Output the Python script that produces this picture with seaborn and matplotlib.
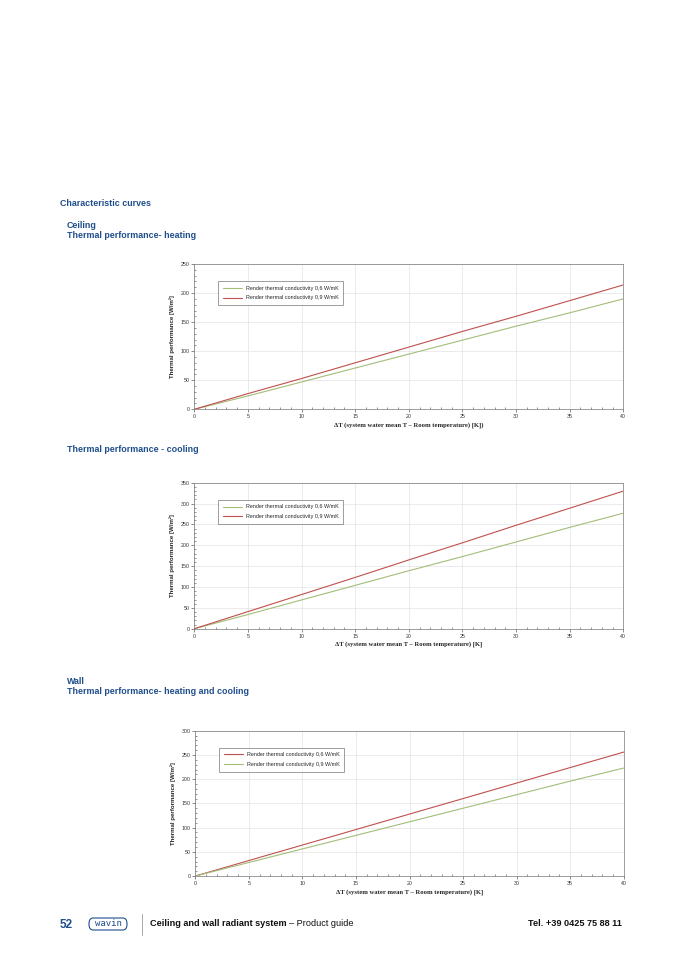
import pandas as pd
import matplotlib
matplotlib.use("Agg")
import matplotlib.pyplot as plt
from matplotlib.patches import FancyBboxPatch
from matplotlib.ticker import MultipleLocator
import seaborn as sns

# data
dt = [0, 5, 10, 15, 20, 25, 30, 35, 40]

heat_06 = [0, 23, 47, 71, 95, 119, 143, 166, 190]
heat_09 = [0, 27, 53, 80, 107, 134, 160, 187, 214]

cool_06 = [0, 34, 69, 104, 139, 173, 208, 243, 277]
cool_09 = [0, 41, 82, 123, 165, 206, 248, 289, 330]

wall_06 = [0, 32, 64, 96, 128, 160, 192, 224, 256]
wall_09 = [0, 28, 56, 84, 112, 140, 168, 196, 223]

lab_06 = "Render thermal conductivity 0,6 W/mK"
lab_09 = "Render thermal conductivity 0,9 W/mK"

GREEN = "#a3bd78"
RED = "#c0504d"
BLUE = "#1f4e8c"

sns.set_theme(style="white")
plt.rcParams["font.family"] = ["Liberation Sans", "DejaVu Sans"]

fig = plt.figure(figsize=(6.78, 9.59), dpi=100)


def make_df(a, b, la, lb):
    return pd.DataFrame({
        "dt": dt * 2,
        "val": a + b,
        "serie": [la] * len(dt) + [lb] * len(dt),
    })


def chart(rect, df, palette, ymax, ystep, xlabel):
    ax = fig.add_axes(rect)
    sns.lineplot(data=df, x="dt", y="val", hue="serie", palette=palette,
                 linewidth=0.8, ax=ax)
    ax.set_xlim(0, 40)
    ax.set_ylim(0, ymax)
    ax.xaxis.set_major_locator(MultipleLocator(5))
    ax.xaxis.set_minor_locator(MultipleLocator(1))
    ax.yaxis.set_major_locator(MultipleLocator(ystep))
    ax.yaxis.set_minor_locator(MultipleLocator(10))
    ax.grid(True, which="major", color="#e3e3e3", linewidth=0.5)
    ax.tick_params(axis="both", which="major", labelsize=3.8, length=2,
                   width=0.4, direction="out", pad=1.5, colors="#333333",
                   bottom=True, left=True)
    ax.tick_params(axis="both", which="minor", length=1.6, width=0.4,
                   direction="in", bottom=True, left=True, color="#444444")
    for s in ax.spines.values():
        s.set_linewidth(0.5)
        s.set_color("#777777")
    ax.set_xlabel(xlabel, fontsize=4.8, fontweight="bold",
                  family=["Liberation Serif", "DejaVu Serif"], labelpad=2)
    ax.set_ylabel("Thermal performance [W/m²]", fontsize=4.4,
                  fontweight="bold", labelpad=4)
    leg = ax.legend(loc="upper left", bbox_to_anchor=(0.05, 0.9),
                    fontsize=3.9, frameon=True, fancybox=False,
                    edgecolor="#555555", handlelength=3.5, borderpad=0.8,
                    labelspacing=0.9, title=None)
    leg.get_frame().set_linewidth(0.5)
    return ax


xl1 = "ΔT (system water mean T – Room temperature) [K])"
xl2 = "ΔT (system water mean T – Room temperature) [K]"

chart([0.2866, 0.5732, 0.6327, 0.1515],
      make_df(heat_06, heat_09, lab_06, lab_09),
      {lab_06: GREEN, lab_09: RED}, 250, 50, xl1)
chart([0.2866, 0.3444, 0.6327, 0.1522],
      make_df(cool_06, cool_09, lab_06, lab_09),
      {lab_06: GREEN, lab_09: RED}, 350, 50, xl2)
chart([0.2880, 0.0865, 0.6320, 0.1515],
      make_df(wall_06, wall_09, lab_06, lab_09),
      {lab_06: RED, lab_09: GREEN}, 300, 50, xl2)


def px(x, y):
    return x / 678, 1 - y / 959


kw = dict(color=BLUE, fontweight="bold", fontsize=6.4, va="center",
          ha="left")
fig.text(*px(60, 204), "Characteristic curves", **kw)
fig.text(*px(67, 225), "Ceiling", **kw)
fig.text(*px(67, 236), "Thermal performance- heating", **kw)
fig.text(*px(67, 449), "Thermal performance - cooling", **kw)
fig.text(*px(67, 681), "Wall", **kw)
fig.text(*px(67, 692), "Thermal performance- heating and cooling", **kw)

# footer
fig.text(*px(60, 925), "52", color=BLUE, fontweight="bold", fontsize=8.5,
         va="center", ha="left")
x0, y0 = px(89, 930)
x1, y1 = px(127, 918)
fig.patches.append(FancyBboxPatch((x0, y0), x1 - x0, y1 - y0,
                                  boxstyle="round,pad=0,rounding_size=0.006",
                                  transform=fig.transFigure, fill=False,
                                  edgecolor=BLUE, linewidth=0.8))
fig.text(*px(108, 924), "wavin", color=BLUE, fontsize=6.5,
         family=["DejaVu Sans Mono"], va="center", ha="center")
fig.add_artist(plt.Line2D([142 / 678, 142 / 678], [1 - 914 / 959, 1 - 935 / 959],
                          transform=fig.transFigure, color="#999999",
                          linewidth=0.6))
t = fig.text(*px(150, 924), "Ceiling and wall radiant system ",
             color="#111111", fontweight="bold", fontsize=6.6, va="center",
             ha="left")
fig.canvas.draw()
bb = t.get_window_extent().transformed(fig.transFigure.inverted())
fig.text(bb.x1, 1 - 924 / 959, "– Product guide", color="#111111",
         fontsize=6.6, va="center", ha="left")
fig.text(*px(622, 924), "Tel. +39 0425 75 88 11", color="#111111",
         fontweight="bold", fontsize=6.6, va="center", ha="right")

fig.savefig("out.png", dpi=100)
